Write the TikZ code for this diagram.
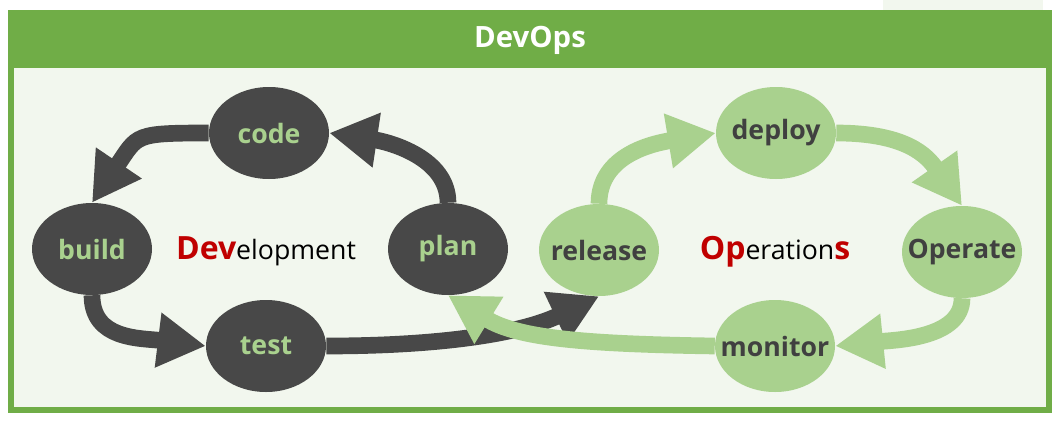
\documentclass[tikz,border=0pt]{standalone}
\usepackage{fontspec}
\setmainfont{Open Sans}
\usepackage{tikz}
\usetikzlibrary{shapes.geometric}
\usetikzlibrary{arrows.meta}
\definecolor{frameGreen}{RGB}{112,173,71}
\definecolor{paleBack}{RGB}{242,247,238}
\definecolor{darkNode}{RGB}{72,72,72}
\definecolor{lightNode}{RGB}{169,209,142}
\definecolor{devRed}{RGB}{192,0,0}
\definecolor{nodeText}{RGB}{64,64,64}
\newcommand{\nodetext}[1]{\makebox[0pt]{#1}}

\begin{document}
\begin{tikzpicture}[x=0.75pt,y=0.75pt,yscale=-1,xscale=1,
  devnode/.style={ellipse,fill=darkNode,minimum width=90pt,minimum height=69pt,inner sep=0pt,text=lightNode,font=\fontsize{20}{22}\selectfont\bfseries},
  opsnode/.style={ellipse,fill=lightNode,minimum width=90pt,minimum height=69pt,inner sep=0pt,text=nodeText,font=\fontsize{20}{22}\selectfont\bfseries},
  devarrow/.style={draw=darkNode,line width=12.5pt,-{Triangle[length=36pt,width=39pt]}},
  opsarrow/.style={draw=lightNode,line width=12.5pt,-{Triangle[length=36pt,width=39pt]}}]
  \useasboundingbox (0,0) rectangle (1060,421);
  % Frame
  \fill [frameGreen] (8,10) rectangle (1052,413);
  \fill [paleBack] (14,68) rectangle (1046,407);
  \fill [paleBack] (883,0) rectangle (1043,10);
  % Title
  \node [text=white,font=\fontsize{22}{24}\selectfont\bfseries] (title) at (530,40) {DevOps};

  % Dev ellipses
  \node [devnode] (code) at (269,133) {\nodetext{code}};
  \node [devnode] (build) at (92,249) {\nodetext{build}};
  \node [devnode] (plan) at (448,249) {\nodetext{plan}};
  \node [devnode] (test) at (266,346) {\nodetext{test}};
  % Ops ellipses
  \node [opsnode] (release) at (599,250) {\nodetext{release}};
  \node [opsnode] (deploy) at (776,133) {\nodetext{deploy}};
  \node [opsnode] (operate) at (962,252) {\nodetext{Operate}};
  \node [opsnode] (monitor) at (775,346) {\nodetext{monitor}};

  % Text Node
  \node [font=\fontsize{20}{22}\selectfont] (dev) at (266,251) {\textcolor{devRed}{\fontsize{24}{26}\selectfont\bfseries Dev}elopment};
  % Text Node
  \node [font=\fontsize{20}{22}\selectfont] (ops) at (775,252) {\textcolor{devRed}{\fontsize{24}{26}\selectfont\bfseries Op}eration\textcolor{devRed}{\fontsize{24}{26}\selectfont\bfseries s}};

  %Curve Lines (dev loop)
  \draw [devarrow] (plan.north) .. controls +(0,-45) and +(60,9) .. (code.east);
  \draw [devarrow] (code.west) .. controls +(-75,0) and +(46,-68) .. (build.north);
  \draw [devarrow] (build.south) .. controls +(0,45) and +(-65,-8) .. (test.west);
  \draw [devarrow] (test.east) .. controls +(110,0) and +(-80,38) .. (release.south);
  %Curve Lines (ops loop)
  \draw [opsarrow] (release.north) .. controls +(0,-50) and +(-60,10) .. (deploy.west);
  \draw [opsarrow] (deploy.east) .. controls +(70,0) and +(-35,-50) .. (operate.north);
  \draw [opsarrow] (operate.south) .. controls +(0,40) and +(60,-6) .. (monitor.east);
  \draw [opsarrow] (monitor.west) .. controls +(-130,-2) and +(70,43) .. (plan.south);
\end{tikzpicture}
\end{document}
